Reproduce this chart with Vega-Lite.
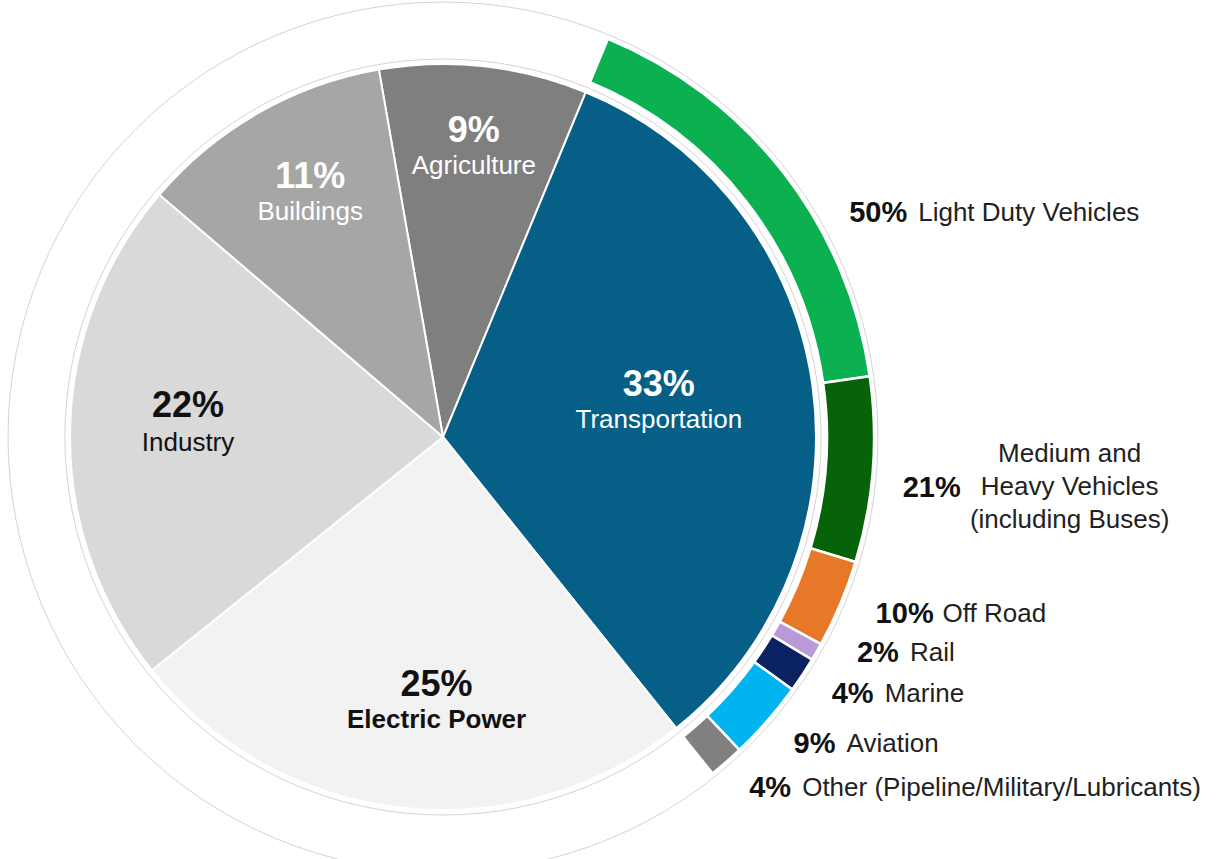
{
  "$schema": "https://vega.github.io/schema/vega-lite/v6.json",
  "width": 886,
  "height": 844,
  "autosize": {"type": "none"},
  "padding": {"left": 0, "top": 15, "right": 333, "bottom": 0},
  "background": "white",
  "config": {"view": {"stroke": null}, "text": {"font": "Liberation Sans"}},
  "datasets": {
    "sectors": [
      {"sector": "Agriculture", "share": 0.09},
      {"sector": "Transportation", "share": 0.33},
      {"sector": "Electric Power", "share": 0.25},
      {"sector": "Industry", "share": 0.22},
      {"sector": "Buildings", "share": 0.11}
    ],
    "transport": [
      {"mode": "Light Duty Vehicles", "share": 0.50},
      {"mode": "Medium and\nHeavy Vehicles\n(including Buses)", "share": 0.21},
      {"mode": "Off Road", "share": 0.10},
      {"mode": "Rail", "share": 0.02},
      {"mode": "Marine", "share": 0.04},
      {"mode": "Aviation", "share": 0.09},
      {"mode": "Other (Pipeline/Military/Lubricants)", "share": 0.04}
    ],
    "guide": [{"g": 1}]
  },
  "resolve": {"scale": {"theta": "independent", "color": "independent"}},
  "layer": [
    {
      "data": {"name": "guide"},
      "mark": {"type": "arc", "innerRadius": 378, "outerRadius": 435, "filled": false, "stroke": "#d4d4d4", "strokeWidth": 1},
      "encoding": {"theta": {"field": "g", "type": "quantitative"}}
    },
    {
      "data": {"name": "sectors"},
      "transform": [{"window": [{"op": "row_number", "as": "idx"}]}],
      "mark": {"type": "arc", "outerRadius": 373, "stroke": "white", "strokeWidth": 2},
      "encoding": {
        "theta": {"field": "share", "type": "quantitative", "stack": true, "scale": {"domain": [0, 1], "range": [-0.1728, 6.1104]}},
        "order": {"field": "idx", "type": "quantitative"},
        "color": {"field": "sector", "type": "nominal", "legend": null,
          "scale": {"domain": ["Agriculture", "Transportation", "Electric Power", "Industry", "Buildings"],
                    "range": ["#7f7f7f", "#065f86", "#f2f2f2", "#d9d9d9", "#a6a6a6"]}}
      }
    },
    {
      "data": {"name": "transport"},
      "transform": [{"window": [{"op": "row_number", "as": "idx"}]}],
      "mark": {"type": "arc", "innerRadius": 384, "outerRadius": 431, "stroke": "white", "strokeWidth": 2.5},
      "encoding": {
        "theta": {"field": "share", "type": "quantitative", "stack": true, "scale": {"domain": [0, 1], "range": [0.3927, 2.4662]}},
        "order": {"field": "idx", "type": "quantitative"},
        "color": {"field": "mode", "type": "nominal", "legend": null,
          "scale": {"domain": ["Light Duty Vehicles", "Medium and\nHeavy Vehicles\n(including Buses)", "Off Road", "Rail", "Marine", "Aviation", "Other (Pipeline/Military/Lubricants)"],
                    "range": ["#0bb150", "#066307", "#e67828", "#b89bd6", "#0b2262", "#00b4ef", "#808080"]}}
      }
    },
    {
      "data": {"name": "sectors"},
      "transform": [{"window": [{"op": "row_number", "as": "idx"}]}],
      "mark": {"type": "text", "radius": 281, "align": "center", "baseline": "alphabetic", "dy": -16, "fontSize": 36, "fontWeight": "bold", "color": "#ffffff"},
      "encoding": {
        "theta": {"field": "share", "type": "quantitative", "stack": true, "scale": {"domain": [0, 1], "range": [-0.1728, 6.1104]}},
        "order": {"field": "idx", "type": "quantitative"},
        "detail": {"field": "sector", "type": "nominal"},
        "text": {"condition": {"test": "datum.sector === 'Agriculture'", "field": "share", "type": "quantitative", "format": ".0%"}, "value": ""}
      }
    },
    {
      "data": {"name": "sectors"},
      "transform": [{"window": [{"op": "row_number", "as": "idx"}]}],
      "mark": {"type": "text", "radius": 281, "align": "center", "baseline": "alphabetic", "dy": 16, "fontSize": 26, "color": "#ffffff"},
      "encoding": {
        "theta": {"field": "share", "type": "quantitative", "stack": true, "scale": {"domain": [0, 1], "range": [-0.1728, 6.1104]}},
        "order": {"field": "idx", "type": "quantitative"},
        "detail": {"field": "sector", "type": "nominal"},
        "text": {"condition": {"test": "datum.sector === 'Agriculture'", "field": "sector", "type": "nominal"}, "value": ""}
      }
    },
    {
      "data": {"name": "sectors"},
      "transform": [{"window": [{"op": "row_number", "as": "idx"}]}],
      "mark": {"type": "text", "radius": 268, "align": "center", "baseline": "alphabetic", "dy": -16, "fontSize": 36, "fontWeight": "bold", "color": "#ffffff"},
      "encoding": {
        "theta": {"field": "share", "type": "quantitative", "stack": true, "scale": {"domain": [0, 1], "range": [-0.1728, 6.1104]}},
        "order": {"field": "idx", "type": "quantitative"},
        "detail": {"field": "sector", "type": "nominal"},
        "text": {"condition": {"test": "datum.sector === 'Buildings'", "field": "share", "type": "quantitative", "format": ".0%"}, "value": ""}
      }
    },
    {
      "data": {"name": "sectors"},
      "transform": [{"window": [{"op": "row_number", "as": "idx"}]}],
      "mark": {"type": "text", "radius": 268, "align": "center", "baseline": "alphabetic", "dy": 16, "fontSize": 26, "color": "#ffffff"},
      "encoding": {
        "theta": {"field": "share", "type": "quantitative", "stack": true, "scale": {"domain": [0, 1], "range": [-0.1728, 6.1104]}},
        "order": {"field": "idx", "type": "quantitative"},
        "detail": {"field": "sector", "type": "nominal"},
        "text": {"condition": {"test": "datum.sector === 'Buildings'", "field": "sector", "type": "nominal"}, "value": ""}
      }
    },
    {
      "data": {"name": "sectors"},
      "transform": [{"window": [{"op": "row_number", "as": "idx"}]}],
      "mark": {"type": "text", "radius": 255, "align": "center", "baseline": "alphabetic", "dy": -16, "fontSize": 36, "fontWeight": "bold", "color": "#111111"},
      "encoding": {
        "theta": {"field": "share", "type": "quantitative", "stack": true, "scale": {"domain": [0, 1], "range": [-0.1728, 6.1104]}},
        "order": {"field": "idx", "type": "quantitative"},
        "detail": {"field": "sector", "type": "nominal"},
        "text": {"condition": {"test": "datum.sector === 'Industry'", "field": "share", "type": "quantitative", "format": ".0%"}, "value": ""}
      }
    },
    {
      "data": {"name": "sectors"},
      "transform": [{"window": [{"op": "row_number", "as": "idx"}]}],
      "mark": {"type": "text", "radius": 255, "align": "center", "baseline": "alphabetic", "dy": 18, "fontSize": 26, "color": "#111111"},
      "encoding": {
        "theta": {"field": "share", "type": "quantitative", "stack": true, "scale": {"domain": [0, 1], "range": [-0.1728, 6.1104]}},
        "order": {"field": "idx", "type": "quantitative"},
        "detail": {"field": "sector", "type": "nominal"},
        "text": {"condition": {"test": "datum.sector === 'Industry'", "field": "sector", "type": "nominal"}, "value": ""}
      }
    },
    {
      "data": {"name": "sectors"},
      "transform": [{"window": [{"op": "row_number", "as": "idx"}]}],
      "mark": {"type": "text", "radius": 268, "align": "center", "baseline": "alphabetic", "dx": 23, "dy": -7, "fontSize": 36, "fontWeight": "bold", "color": "#111111"},
      "encoding": {
        "theta": {"field": "share", "type": "quantitative", "stack": true, "scale": {"domain": [0, 1], "range": [-0.1728, 6.1104]}},
        "order": {"field": "idx", "type": "quantitative"},
        "detail": {"field": "sector", "type": "nominal"},
        "text": {"condition": {"test": "datum.sector === 'Electric Power'", "field": "share", "type": "quantitative", "format": ".0%"}, "value": ""}
      }
    },
    {
      "data": {"name": "sectors"},
      "transform": [{"window": [{"op": "row_number", "as": "idx"}]}],
      "mark": {"type": "text", "radius": 268, "align": "center", "baseline": "alphabetic", "dx": 23, "dy": 25, "fontSize": 26, "fontWeight": "bold", "color": "#111111"},
      "encoding": {
        "theta": {"field": "share", "type": "quantitative", "stack": true, "scale": {"domain": [0, 1], "range": [-0.1728, 6.1104]}},
        "order": {"field": "idx", "type": "quantitative"},
        "detail": {"field": "sector", "type": "nominal"},
        "text": {"condition": {"test": "datum.sector === 'Electric Power'", "field": "sector", "type": "nominal"}, "value": ""}
      }
    },
    {
      "data": {"name": "sectors"},
      "transform": [{"window": [{"op": "row_number", "as": "idx"}]}],
      "mark": {"type": "text", "radius": 218, "align": "center", "baseline": "alphabetic", "dy": -10, "fontSize": 36, "fontWeight": "bold", "color": "#ffffff"},
      "encoding": {
        "theta": {"field": "share", "type": "quantitative", "stack": true, "scale": {"domain": [0, 1], "range": [-0.1728, 6.1104]}},
        "order": {"field": "idx", "type": "quantitative"},
        "detail": {"field": "sector", "type": "nominal"},
        "text": {"condition": {"test": "datum.sector === 'Transportation'", "field": "share", "type": "quantitative", "format": ".0%"}, "value": ""}
      }
    },
    {
      "data": {"name": "sectors"},
      "transform": [{"window": [{"op": "row_number", "as": "idx"}]}],
      "mark": {"type": "text", "radius": 218, "align": "center", "baseline": "alphabetic", "dy": 22, "fontSize": 26, "color": "#ffffff"},
      "encoding": {
        "theta": {"field": "share", "type": "quantitative", "stack": true, "scale": {"domain": [0, 1], "range": [-0.1728, 6.1104]}},
        "order": {"field": "idx", "type": "quantitative"},
        "detail": {"field": "sector", "type": "nominal"},
        "text": {"condition": {"test": "datum.sector === 'Transportation'", "field": "sector", "type": "nominal"}, "value": ""}
      }
    },
    {
      "data": {"name": "transport"},
      "transform": [{"window": [{"op": "row_number", "as": "idx"}]}],
      "mark": {"type": "text", "radius": 466, "align": "left", "baseline": "middle", "dx": 3, "dy": -4, "fontSize": 29, "fontWeight": "bold", "color": "#111111"},
      "encoding": {
        "theta": {"field": "share", "type": "quantitative", "stack": true, "scale": {"domain": [0, 1], "range": [0.3927, 2.4662]}},
        "order": {"field": "idx", "type": "quantitative"},
        "detail": {"field": "mode", "type": "nominal"},
        "text": {"condition": {"test": "datum.mode === 'Off Road'", "field": "share", "type": "quantitative", "format": ".0%"}, "value": ""}
      }
    },
    {
      "data": {"name": "transport"},
      "transform": [{"window": [{"op": "row_number", "as": "idx"}]}],
      "mark": {"type": "text", "radius": 466, "align": "left", "baseline": "middle", "fontSize": 29, "fontWeight": "bold", "color": "#111111"},
      "encoding": {
        "theta": {"field": "share", "type": "quantitative", "stack": true, "scale": {"domain": [0, 1], "range": [0.3927, 2.4662]}},
        "order": {"field": "idx", "type": "quantitative"},
        "detail": {"field": "mode", "type": "nominal"},
        "text": {"condition": {"test": "datum.mode === 'Marine' || datum.mode === 'Aviation' || indexof(datum.mode, 'Other') === 0", "field": "share", "type": "quantitative", "format": ".0%"}, "value": ""}
      }
    },
    {
      "data": {"name": "transport"},
      "transform": [{"window": [{"op": "row_number", "as": "idx"}]}],
      "mark": {"type": "text", "radius": 466, "align": "left", "baseline": "middle", "dx": 10, "dy": -16, "fontSize": 29, "fontWeight": "bold", "color": "#111111"},
      "encoding": {
        "theta": {"field": "share", "type": "quantitative", "stack": true, "scale": {"domain": [0, 1], "range": [0.3927, 2.4662]}},
        "order": {"field": "idx", "type": "quantitative"},
        "detail": {"field": "mode", "type": "nominal"},
        "text": {"condition": {"test": "datum.mode === 'Rail'", "field": "share", "type": "quantitative", "format": ".0%"}, "value": ""}
      }
    },
    {
      "data": {"name": "transport"},
      "transform": [{"window": [{"op": "row_number", "as": "idx"}]}],
      "mark": {"type": "text", "radius": 466, "align": "left", "baseline": "middle", "dx": 38, "dy": 62, "fontSize": 29, "fontWeight": "bold", "color": "#111111"},
      "encoding": {
        "theta": {"field": "share", "type": "quantitative", "stack": true, "scale": {"domain": [0, 1], "range": [0.3927, 2.4662]}},
        "order": {"field": "idx", "type": "quantitative"},
        "detail": {"field": "mode", "type": "nominal"},
        "text": {"condition": {"test": "datum.mode === 'Light Duty Vehicles'", "field": "share", "type": "quantitative", "format": ".0%"}, "value": ""}
      }
    },
    {
      "data": {"name": "transport"},
      "transform": [{"window": [{"op": "row_number", "as": "idx"}]}],
      "mark": {"type": "text", "radius": 466, "align": "left", "baseline": "middle", "dx": -5, "dy": 15, "fontSize": 29, "fontWeight": "bold", "color": "#111111"},
      "encoding": {
        "theta": {"field": "share", "type": "quantitative", "stack": true, "scale": {"domain": [0, 1], "range": [0.3927, 2.4662]}},
        "order": {"field": "idx", "type": "quantitative"},
        "detail": {"field": "mode", "type": "nominal"},
        "text": {"condition": {"test": "indexof(datum.mode, 'Medium') === 0", "field": "share", "type": "quantitative", "format": ".0%"}, "value": ""}
      }
    },
    {
      "data": {"name": "transport"},
      "transform": [{"window": [{"op": "row_number", "as": "idx"}]}],
      "mark": {"type": "text", "radius": 466, "align": "left", "baseline": "middle", "dx": 53, "fontSize": 26, "color": "#222222"},
      "encoding": {
        "theta": {"field": "share", "type": "quantitative", "stack": true, "scale": {"domain": [0, 1], "range": [0.3927, 2.4662]}},
        "order": {"field": "idx", "type": "quantitative"},
        "detail": {"field": "mode", "type": "nominal"},
        "text": {"condition": {"test": "datum.mode === 'Marine' || datum.mode === 'Aviation' || indexof(datum.mode, 'Other') === 0", "field": "mode", "type": "nominal"}, "value": ""}
      }
    },
    {
      "data": {"name": "transport"},
      "transform": [{"window": [{"op": "row_number", "as": "idx"}]}],
      "mark": {"type": "text", "radius": 466, "align": "left", "baseline": "middle", "dx": 70, "dy": -4, "fontSize": 26, "color": "#222222"},
      "encoding": {
        "theta": {"field": "share", "type": "quantitative", "stack": true, "scale": {"domain": [0, 1], "range": [0.3927, 2.4662]}},
        "order": {"field": "idx", "type": "quantitative"},
        "detail": {"field": "mode", "type": "nominal"},
        "text": {"condition": {"test": "datum.mode === 'Off Road'", "field": "mode", "type": "nominal"}, "value": ""}
      }
    },
    {
      "data": {"name": "transport"},
      "transform": [{"window": [{"op": "row_number", "as": "idx"}]}],
      "mark": {"type": "text", "radius": 466, "align": "left", "baseline": "middle", "dx": 63, "dy": -16, "fontSize": 26, "color": "#222222"},
      "encoding": {
        "theta": {"field": "share", "type": "quantitative", "stack": true, "scale": {"domain": [0, 1], "range": [0.3927, 2.4662]}},
        "order": {"field": "idx", "type": "quantitative"},
        "detail": {"field": "mode", "type": "nominal"},
        "text": {"condition": {"test": "datum.mode === 'Rail'", "field": "mode", "type": "nominal"}, "value": ""}
      }
    },
    {
      "data": {"name": "transport"},
      "transform": [{"window": [{"op": "row_number", "as": "idx"}]}],
      "mark": {"type": "text", "radius": 466, "align": "left", "baseline": "middle", "dx": 107, "dy": 62, "fontSize": 26, "color": "#222222"},
      "encoding": {
        "theta": {"field": "share", "type": "quantitative", "stack": true, "scale": {"domain": [0, 1], "range": [0.3927, 2.4662]}},
        "order": {"field": "idx", "type": "quantitative"},
        "detail": {"field": "mode", "type": "nominal"},
        "text": {"condition": {"test": "datum.mode === 'Light Duty Vehicles'", "field": "mode", "type": "nominal"}, "value": ""}
      }
    },
    {
      "data": {"name": "transport"},
      "transform": [{"window": [{"op": "row_number", "as": "idx"}]}],
      "mark": {"type": "text", "radius": 466, "align": "center", "baseline": "middle", "dx": 162, "dy": -19, "fontSize": 26, "lineBreak": "\n", "lineHeight": 33, "color": "#222222"},
      "encoding": {
        "theta": {"field": "share", "type": "quantitative", "stack": true, "scale": {"domain": [0, 1], "range": [0.3927, 2.4662]}},
        "order": {"field": "idx", "type": "quantitative"},
        "detail": {"field": "mode", "type": "nominal"},
        "text": {"condition": {"test": "indexof(datum.mode, 'Medium') === 0", "field": "mode", "type": "nominal"}, "value": ""}
      }
    }
  ]
}
